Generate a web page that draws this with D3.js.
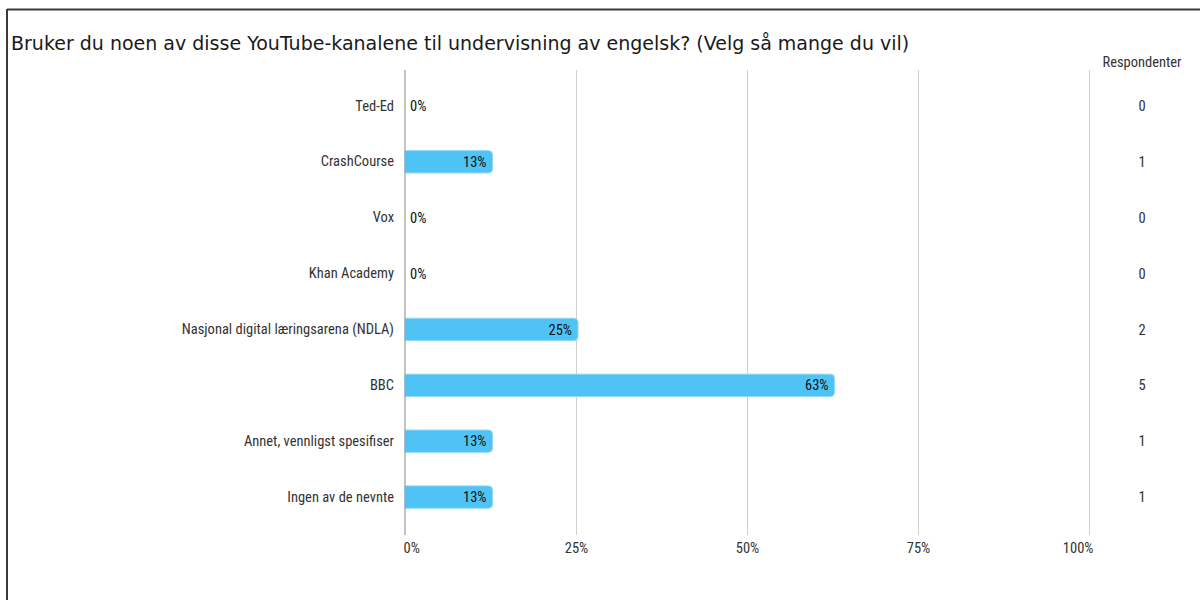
<!DOCTYPE html>
<html><head><meta charset="utf-8">
<script src="https://cdn.jsdelivr.net/npm/d3@7"></script>
<style>
body{margin:0;background:#fff;}
svg{display:block;}
</style></head>
<body>
<svg id="chart" width="1200" height="600"></svg>
<script>
const title = "Bruker du noen av disse YouTube-kanalene til undervisning av engelsk? (Velg så mange du vil)";
const categories = ["Ted-Ed","CrashCourse","Vox","Khan Academy","Nasjonal digital læringsarena (NDLA)","BBC","Annet, vennligst spesifiser","Ingen av de nevnte"];
const respondents = [0,1,0,0,2,5,1,1];
const shares = [0,0.125,0,0,0.25,0.625,0.125,0.125];
const shareLabels = ["0%","13%","0%","0%","25%","63%","13%","13%"];
const tickValues = [0,0.25,0.5,0.75,1];
const tickLabels = ["0%","25%","50%","75%","100%"];
const columnHeader = "Respondenter";

const svg = d3.select("#chart");
const condensed = "'Liberation Sans Narrow','Roboto Condensed','Arial Narrow',Roboto,sans-serif";
const fs = 14.5;

// frame
svg.append("line").attr("x1",7).attr("x2",1200).attr("y1",9.5).attr("y2",9.5).attr("stroke","#3a3a3a").attr("stroke-width",2);
svg.append("line").attr("x1",7).attr("x2",7).attr("y1",9).attr("y2",600).attr("stroke","#3a3a3a").attr("stroke-width",2);

svg.append("text").attr("x",11).attr("y",50).text(title)
  .attr("font-family","'DejaVu Sans',Verdana,sans-serif").attr("font-size",19).attr("fill","#1a1a1a");

const x = d3.scaleLinear().domain([0,1]).range([405,1089]);
const y = d3.scaleBand().domain(categories).range([78,525]).paddingInner(0.6).paddingOuter(0.3);

// gridlines
svg.append("g").selectAll("line").data(tickValues.slice(1)).join("line")
  .attr("x1",d=>x(d)).attr("x2",d=>x(d)).attr("y1",70).attr("y2",535)
  .attr("stroke","#cfcfcf").attr("stroke-width",1).attr("shape-rendering","crispEdges");

// x axis labels
const xAxis = d3.axisBottom(x).tickValues(tickValues).tickFormat((d,i)=>tickLabels[i]).tickSize(0).tickPadding(0);
const gx = svg.append("g").attr("transform","translate(0,548)").call(xAxis);
gx.select(".domain").remove();
gx.selectAll("text").attr("font-family",condensed).attr("font-size",fs).attr("fill","#333").attr("dy","0.32em");
gx.selectAll(".tick").filter(d=>d===0).select("text").attr("text-anchor","start").attr("x",-2);
gx.selectAll(".tick").filter(d=>d===1).select("text").attr("text-anchor","end").attr("x",4);

// bars: rounded on right only
const bh = y.bandwidth();
const r = 4;
svg.append("g").selectAll("path").data(categories.map((c,i)=>({c,v:shares[i]})).filter(d=>d.v>0)).join("path")
  .attr("d",d=>{
    const x0=x(0), x1=x(d.v)+2, y0=y(d.c), h=bh;
    return `M${x0},${y0}H${x1-r}Q${x1},${y0} ${x1},${y0+r}V${y0+h-r}Q${x1},${y0+h} ${x1-r},${y0+h}H${x0}Z`;
  })
  .attr("fill","#4fc3f5").attr("stroke","#8fd8f8").attr("stroke-width",1);

// zero axis
svg.append("line").attr("x1",x(0)).attr("x2",x(0)).attr("y1",70).attr("y2",535)
  .attr("stroke","#9a9a9a").attr("stroke-width",1.2);

// category labels
const yAxis = d3.axisLeft(y).tickSize(0).tickPadding(0);
const gy = svg.append("g").attr("transform","translate(394,0)").call(yAxis);
gy.select(".domain").remove();
gy.selectAll("text").attr("font-family",condensed).attr("font-size",fs).attr("fill","#333");

// value labels
svg.append("g").selectAll("text").data(categories.map((c,i)=>({c,v:shares[i],l:shareLabels[i]}))).join("text")
  .attr("x",d=>d.v>0?x(d.v)-4:x(0)+5)
  .attr("y",d=>y(d.c)+bh/2).attr("dy","0.35em")
  .attr("text-anchor",d=>d.v>0?"end":"start")
  .attr("font-family",condensed).attr("font-size",fs).attr("fill","#111")
  .text(d=>d.l);

// respondents column
svg.append("text").attr("x",1142).attr("y",67).attr("text-anchor","middle")
  .attr("font-family",condensed).attr("font-size",fs).attr("fill","#333").text(columnHeader);
svg.append("g").selectAll("text").data(categories.map((c,i)=>({c,n:respondents[i]}))).join("text")
  .attr("x",1142).attr("y",d=>y(d.c)+bh/2).attr("dy","0.35em").attr("text-anchor","middle")
  .attr("font-family",condensed).attr("font-size",fs).attr("fill","#333").text(d=>d.n);
</script>
</body></html>
